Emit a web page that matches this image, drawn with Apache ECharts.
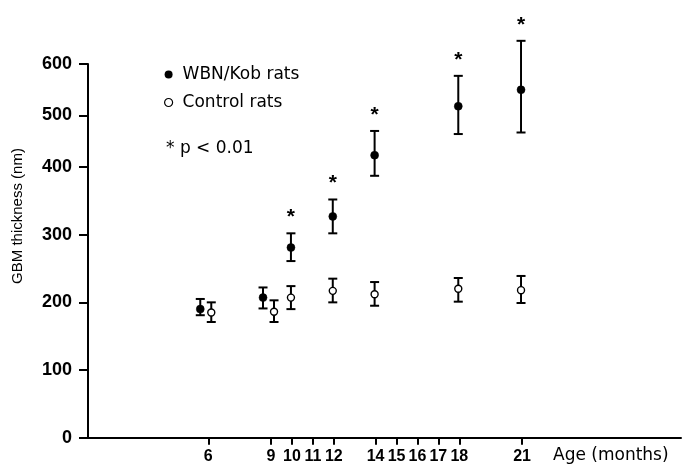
<!DOCTYPE html>
<html><head><meta charset="utf-8">
<script src="https://cdn.jsdelivr.net/npm/echarts@6/dist/echarts.min.js"></script>
<style>html,body{margin:0;padding:0;background:#fff}#c{width:682px;height:468px}</style>
</head><body><div id="c"></div>
<script>
// ---- data ----
const months    = [6, 9, 10, 12, 14, 18, 21];
const wbnMean   = [190, 207, 281, 327, 423, 518, 550];
const wbnLow    = [181, 191, 261, 302, 387, 464, 467];
const wbnHigh   = [205, 222, 302, 352, 470, 577, 645];
const ctrlMean  = [185, 186, 207, 217, 212, 220, 218];
const ctrlLow   = [171, 171, 190, 200, 195, 201, 199];
const ctrlHigh  = [200, 203, 224, 235, 230, 236, 239];
const significant = [false, false, true, true, true, true, true];
const xTickLabels = [6, 9, 10, 11, 12, 14, 15, 16, 17, 18, 21];
const yTickLabels = [0, 100, 200, 300, 400, 500, 600];
const seriesNames = ['WBN/Kob rats', 'Control rats'];

// the printed y axis is compressed above 400
const BREAK = 400, K = 0.761;
const fwd = v => v <= BREAK ? v : BREAK + (v - BREAK) * K;
const inv = u => u <= BREAK + 1e-9 ? u : BREAK + (u - BREAK) / K;

const NUM_FONT = '"Liberation Sans","Noto Sans",sans-serif';
const TXT_FONT = '"DejaVu Sans","Noto Sans",sans-serif';

function build(meanArr, lowArr, highArr) {
  return months.map((m, i) => [m, fwd(meanArr[i]), fwd(lowArr[i]), fwd(highArr[i])]);
}

function makeRender(filled) {
  return function (params, api) {
    const i = params.dataIndex;
    const x = api.value(0);
    const pm = api.coord([x, api.value(1)]);
    const pl = api.coord([x, api.value(2)]);
    const ph = api.coord([x, api.value(3)]);
    // dodge when the two groups overlap at the same age
    const overlap = Math.abs(wbnMean[i] - ctrlMean[i]) < 40;
    const dx = overlap ? (filled ? -8 : 3) : -1;
    const cx = pm[0] + dx;
    const st = { stroke: '#000', lineWidth: 2 };
    const ch = [
      { type: 'line', shape: { x1: cx, y1: ph[1], x2: cx, y2: pl[1] }, style: st },
      { type: 'line', shape: { x1: cx - 4.5, y1: ph[1], x2: cx + 4.5, y2: ph[1] }, style: st },
      { type: 'line', shape: { x1: cx - 4.5, y1: pl[1], x2: cx + 4.5, y2: pl[1] }, style: st },
      { type: 'circle', shape: { cx: cx, cy: pm[1], r: filled ? 4 : 3.5 },
        style: { fill: filled ? '#000' : '#fff', stroke: '#000', lineWidth: filled ? 0.5 : 1.4 } }
    ];
    if (filled && significant[i]) {
      ch.push({ type: 'text', x: cx, y: ph[1] - 16,
        style: { text: '*', fill: '#000', font: 'bold 21px "Liberation Sans",sans-serif',
                 textAlign: 'center', textVerticalAlign: 'middle', align: 'center', verticalAlign: 'middle' } });
    }
    return { type: 'group', children: ch };
  };
}

const chart = echarts.init(document.getElementById('c'), null, { renderer: 'canvas' });
chart.setOption({
  backgroundColor: '#fff',
  animation: false,
  grid: { left: 88, right: 1, top: 64, bottom: 30.3, containLabel: false },
  xAxis: {
    type: 'value', min: 0.25, max: 28.6,
    splitLine: { show: false },
    axisLine: { show: true, onZero: false, lineStyle: { color: '#000', width: 2 } },
    axisTick: { show: true, customValues: xTickLabels, length: 7, lineStyle: { color: '#000', width: 2 } },
    axisLabel: { customValues: xTickLabels, margin: 11, color: '#000',
      fontFamily: NUM_FONT, fontWeight: 'bold', fontSize: 16 }
  },
  yAxis: {
    type: 'value', min: 0, max: fwd(600),
    splitLine: { show: false },
    axisLine: { show: true, lineStyle: { color: '#000', width: 2 } },
    axisTick: { show: true, customValues: yTickLabels.map(fwd), length: 9, lineStyle: { color: '#000', width: 2 } },
    axisLabel: { customValues: yTickLabels.map(fwd), margin: 16, color: '#000',
      fontFamily: NUM_FONT, fontWeight: 'bold', fontSize: 18,
      formatter: v => String(Math.round(inv(v))) }
  },
  legend: {
    orient: 'vertical', left: 164, top: 66, padding: 0, itemWidth: 8, itemHeight: 8, itemGap: 11,
    selectedMode: false,
    textStyle: { color: '#000', fontFamily: TXT_FONT, fontSize: 17, lineHeight: 17, padding: [0, 0, 0, 5] },
    data: [
      { name: seriesNames[0], icon: 'circle', itemStyle: { color: '#000' } },
      { name: seriesNames[1], icon: 'circle', itemStyle: { color: '#fff', borderColor: '#000', borderWidth: 1.2 } }
    ]
  },
  graphic: [
    { type: 'text', left: 166, top: 140, style: { text: '* p < 0.01', fill: '#000', font: '17px ' + TXT_FONT } },
    { type: 'text', left: 553, top: 447, style: { text: 'Age (months)', fill: '#000', font: '17px ' + TXT_FONT } },
    { type: 'text', x: 18, y: 216, rotation: Math.PI / 2,
      style: { text: 'GBM thickness (nm)', fill: '#000', font: '15px "Liberation Sans",sans-serif',
               textAlign: 'center', textVerticalAlign: 'middle', align: 'center', verticalAlign: 'middle' } }
  ],
  series: [
    { name: seriesNames[0], type: 'custom', clip: false, itemStyle: { color: '#000' },
      renderItem: makeRender(true), data: build(wbnMean, wbnLow, wbnHigh), z: 3 },
    { name: seriesNames[1], type: 'custom', clip: false, itemStyle: { color: '#fff' },
      renderItem: makeRender(false), data: build(ctrlMean, ctrlLow, ctrlHigh), z: 4 }
  ]
});
</script>
</body></html>
